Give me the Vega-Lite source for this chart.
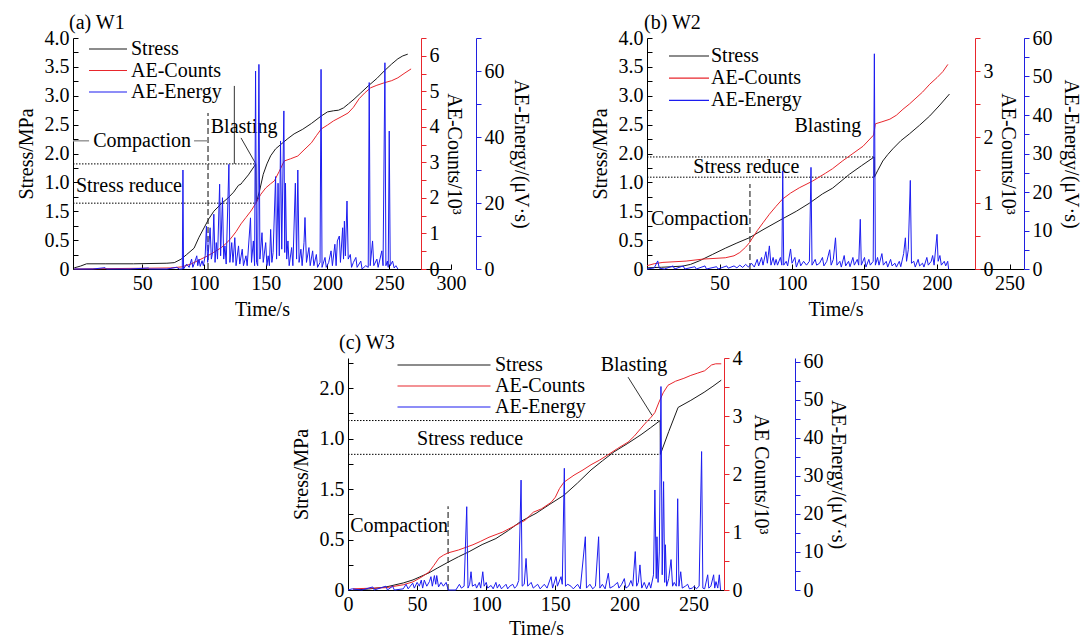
{
 "$schema": "https://vega.github.io/schema/vega-lite/v6.json",
 "padding": {"left": 16, "top": 13, "right": 2, "bottom": 2},
 "background": "white",
 "config": {
  "view": {"stroke": null},
  "font": "Liberation Serif",
  "axis": {"labelFont": "Liberation Serif", "titleFont": "Liberation Serif", "labelFontSize": 20, "titleFontSize": 20, "titleFontWeight": "normal", "labelColor": "black", "titleColor": "black", "grid": false, "domainColor": "black", "tickColor": "black", "domainWidth": 1, "tickWidth": 1, "labelOverlap": false, "labelFlush": false},
  "legend": {"orient": "none", "title": null, "symbolStrokeWidth": 1.2, "symbolSize": 400, "labelFont": "Liberation Serif", "labelFontSize": 20, "labelColor": "black", "padding": 0},
  "title": {"font": "Liberation Serif", "fontSize": 20, "fontWeight": "normal", "anchor": "start", "frame": "group", "color": "black"}
 },
 "datasets": {
  "a_stress": [{"t":-5,"v":0.02},{"t":0,"v":0.05},{"t":5,"v":0.09},{"t":20,"v":0.09},{"t":43,"v":0.09},{"t":70,"v":0.1},{"t":76,"v":0.11},{"t":81.5,"v":0.17},{"t":86,"v":0.25},{"t":92,"v":0.36},{"t":96,"v":0.55},{"t":100,"v":0.71},{"t":104,"v":0.87},{"t":108,"v":1.0},{"t":114,"v":1.13},{"t":119.5,"v":1.23},{"t":124,"v":1.33},{"t":128,"v":1.45},{"t":130,"v":1.47},{"t":131,"v":1.5},{"t":136,"v":1.63},{"t":142,"v":1.82},{"t":142.3,"v":1.14},{"t":145,"v":1.35},{"t":148,"v":1.64},{"t":151,"v":1.82},{"t":154,"v":1.96},{"t":158,"v":2.08},{"t":162.4,"v":2.16},{"t":168,"v":2.26},{"t":173,"v":2.34},{"t":180,"v":2.42},{"t":187,"v":2.52},{"t":195,"v":2.65},{"t":200,"v":2.72},{"t":205,"v":2.74},{"t":209,"v":2.75},{"t":213,"v":2.79},{"t":217,"v":2.86},{"t":221.5,"v":2.94},{"t":227,"v":3.05},{"t":233,"v":3.17},{"t":240,"v":3.3},{"t":246,"v":3.43},{"t":252,"v":3.55},{"t":257,"v":3.64},{"t":261,"v":3.69},{"t":265,"v":3.72}],
  "a_counts": [{"t":-5,"c":0},{"t":20,"c":0.01},{"t":50,"c":0.02},{"t":73,"c":0.03},{"t":82,"c":0.06},{"t":89.5,"c":0.14},{"t":96,"c":0.25},{"t":103,"c":0.37},{"t":108,"c":0.47},{"t":114,"c":0.6},{"t":118,"c":0.72},{"t":122,"c":0.87},{"t":126,"c":1.05},{"t":130,"c":1.27},{"t":134,"c":1.45},{"t":138,"c":1.63},{"t":142,"c":1.85},{"t":146,"c":2.1},{"t":150,"c":2.28},{"t":154,"c":2.4},{"t":157,"c":2.48},{"t":161,"c":2.75},{"t":165,"c":3.04},{"t":170,"c":3.1},{"t":176,"c":3.18},{"t":181,"c":3.35},{"t":187,"c":3.55},{"t":191,"c":3.75},{"t":195,"c":3.94},{"t":200,"c":4.05},{"t":205,"c":4.17},{"t":211,"c":4.28},{"t":216.7,"c":4.39},{"t":221,"c":4.55},{"t":225.6,"c":4.79},{"t":230,"c":4.95},{"t":235,"c":5.1},{"t":240,"c":5.17},{"t":246,"c":5.24},{"t":252,"c":5.3},{"t":257,"c":5.38},{"t":262,"c":5.5},{"t":267.7,"c":5.63}],
  "a_energy": [{"t":-5,"e":0},{"t":10,"e":0},{"t":20,"e":0.4},{"t":21,"e":0},{"t":40,"e":0},{"t":55,"e":0.3},{"t":56,"e":0},{"t":70,"e":0},{"t":78,"e":0.5},{"t":80,"e":0},{"t":82.5,"e":0},{"t":83,"e":30},{"t":83.5,"e":0},{"t":86,"e":1.5},{"t":88,"e":0.5},{"t":90,"e":3},{"t":91,"e":0.5},{"t":92.5,"e":2},{"t":94.2,"e":4},{"t":95,"e":1},{"t":96,"e":3},{"t":97,"e":0.8},{"t":98.5,"e":2.5},{"t":99.5,"e":1},{"t":101,"e":4},{"t":102,"e":13},{"t":103,"e":2},{"t":104,"e":7},{"t":105,"e":12.5},{"t":106,"e":3},{"t":107,"e":5},{"t":108,"e":16.6},{"t":109,"e":2},{"t":110,"e":8},{"t":111,"e":3},{"t":112.7,"e":25.7},{"t":113.5,"e":4},{"t":115,"e":21.6},{"t":116,"e":3},{"t":117,"e":7},{"t":118,"e":1.5},{"t":120.2,"e":31.7},{"t":121,"e":2},{"t":122.5,"e":8},{"t":123.5,"e":2},{"t":125,"e":9.5},{"t":126,"e":1},{"t":128,"e":7},{"t":129,"e":1.5},{"t":131,"e":6},{"t":132,"e":1},{"t":134,"e":4},{"t":135,"e":1},{"t":137.7,"e":15.5},{"t":138.5,"e":2},{"t":140,"e":8.5},{"t":141,"e":1},{"t":141.8,"e":60},{"t":142.6,"e":2},{"t":143.5,"e":1},{"t":144.5,"e":62},{"t":145.3,"e":3},{"t":147,"e":11},{"t":148,"e":2},{"t":150,"e":8},{"t":151,"e":1},{"t":152,"e":4},{"t":153,"e":1},{"t":154,"e":12},{"t":155,"e":2},{"t":156,"e":5},{"t":158,"e":28},{"t":158.8,"e":3},{"t":160,"e":26},{"t":161,"e":4},{"t":162,"e":38.8},{"t":163,"e":6},{"t":164.7,"e":47.9},{"t":165.4,"e":5},{"t":166,"e":26},{"t":167,"e":3},{"t":168,"e":8.5},{"t":169,"e":1},{"t":171,"e":6.5},{"t":172,"e":1},{"t":174,"e":26},{"t":175,"e":3},{"t":176,"e":30},{"t":177,"e":2},{"t":178.5,"e":6},{"t":179.5,"e":1},{"t":181,"e":8},{"t":181.8,"e":15.6},{"t":183,"e":2},{"t":185,"e":6.5},{"t":186,"e":1},{"t":188,"e":5.5},{"t":189,"e":1},{"t":191,"e":4.4},{"t":192,"e":0.5},{"t":194,"e":2},{"t":194.8,"e":60.5},{"t":195.6,"e":0.5},{"t":198,"e":3.5},{"t":199,"e":0.5},{"t":201,"e":2},{"t":202.9,"e":5.5},{"t":204,"e":1},{"t":206,"e":7.5},{"t":207,"e":1},{"t":208,"e":8.5},{"t":209.6,"e":10},{"t":210.5,"e":2},{"t":212.3,"e":12.5},{"t":213,"e":3},{"t":213.7,"e":14.5},{"t":214.5,"e":4},{"t":215.8,"e":20.6},{"t":216.8,"e":3},{"t":218.5,"e":4.4},{"t":219.5,"e":0.5},{"t":221,"e":2},{"t":223,"e":3.5},{"t":224,"e":0.5},{"t":227,"e":2.4},{"t":228,"e":0},{"t":231,"e":1},{"t":233,"e":0.5},{"t":233.8,"e":56.5},{"t":234.6,"e":1},{"t":236.5,"e":8.5},{"t":237.5,"e":1},{"t":240,"e":3},{"t":241,"e":0.5},{"t":244,"e":5.5},{"t":245,"e":1},{"t":246.5,"e":62.5},{"t":247.3,"e":1},{"t":248.5,"e":2.4},{"t":249.2,"e":0.5},{"t":250,"e":41.8},{"t":250.8,"e":1},{"t":252.7,"e":2.4},{"t":254,"e":0.3},{"t":255.4,"e":1},{"t":257,"e":0}],
  "a_ann": [{"k":"dot","t":-6,"t2":142,"v":1.82,"v2":1.82},{"k":"dot","t":-6,"t2":142.5,"v":1.14,"v2":1.14},{"k":"dash","t":103.3,"t2":103.3,"v":0,"v2":2.7},{"k":"gray","t":-6,"t2":7,"v":2.22,"v2":2.22},{"k":"gray","t":92,"t2":103.3,"v":2.22,"v2":2.22},{"k":"solid","t":130,"t2":142,"v":2.27,"v2":1.82},{"k":"solid","t":124.6,"t2":124.6,"v":1.82,"v2":3.17}],
  "a_txt": [{"t":49.9,"v":2.22,"label":"Compaction"},{"t":39.3,"v":1.44,"label":"Stress reduce"},{"t":132.5,"v":2.46,"label":"Blasting"}],
  "b_stress": [{"t":0,"v":0.02},{"t":10,"v":0.03},{"t":24.6,"v":0.05},{"t":30,"v":0.08},{"t":36,"v":0.14},{"t":45,"v":0.25},{"t":54,"v":0.36},{"t":62,"v":0.45},{"t":70.5,"v":0.54},{"t":80,"v":0.68},{"t":93.5,"v":0.87},{"t":103,"v":1.0},{"t":112,"v":1.14},{"t":121,"v":1.3},{"t":128,"v":1.4},{"t":139.6,"v":1.64},{"t":148,"v":1.79},{"t":156.7,"v":1.94},{"t":156.8,"v":1.59},{"t":159,"v":1.7},{"t":162.6,"v":1.87},{"t":166,"v":1.98},{"t":169.5,"v":2.08},{"t":175,"v":2.22},{"t":181,"v":2.34},{"t":188,"v":2.49},{"t":195,"v":2.65},{"t":202,"v":2.84},{"t":208.6,"v":3.03}],
  "b_counts": [{"t":0,"c":0.05},{"t":5,"c":0.08},{"t":11,"c":0.1},{"t":27,"c":0.12},{"t":38.5,"c":0.15},{"t":54,"c":0.17},{"t":60,"c":0.2},{"t":64,"c":0.25},{"t":68,"c":0.33},{"t":70.7,"c":0.4},{"t":76,"c":0.58},{"t":80,"c":0.7},{"t":84.4,"c":0.83},{"t":89,"c":0.95},{"t":93.5,"c":1.06},{"t":99,"c":1.15},{"t":105,"c":1.23},{"t":114,"c":1.33},{"t":123,"c":1.45},{"t":128,"c":1.52},{"t":135,"c":1.64},{"t":142,"c":1.75},{"t":149,"c":1.86},{"t":156.3,"c":2.03},{"t":157.5,"c":2.2},{"t":162,"c":2.23},{"t":167.5,"c":2.27},{"t":172,"c":2.33},{"t":176.5,"c":2.42},{"t":181,"c":2.5},{"t":185.5,"c":2.59},{"t":190,"c":2.68},{"t":195,"c":2.8},{"t":200,"c":2.9},{"t":204,"c":2.99},{"t":207.5,"c":3.1}],
  "b_energy": [{"t":0,"e":0},{"t":5,"e":0.3},{"t":7.4,"e":2.1},{"t":8.5,"e":0.2},{"t":12,"e":0},{"t":18,"e":0.8},{"t":19,"e":0},{"t":25,"e":0.8},{"t":26,"e":0},{"t":33,"e":0.6},{"t":34,"e":0},{"t":40,"e":0.8},{"t":41,"e":0},{"t":48,"e":0.6},{"t":49,"e":0},{"t":55,"e":0.8},{"t":56,"e":0.2},{"t":60,"e":0.8},{"t":62,"e":0.3},{"t":64,"e":1},{"t":66,"e":0.4},{"t":68,"e":1.2},{"t":70,"e":0.5},{"t":72,"e":1.5},{"t":74,"e":0.5},{"t":76,"e":2.5},{"t":77,"e":0.8},{"t":79,"e":3},{"t":80,"e":1},{"t":82,"e":4.5},{"t":83,"e":1.5},{"t":84.4,"e":6},{"t":85.5,"e":1},{"t":87,"e":3},{"t":88,"e":1},{"t":89,"e":2.5},{"t":90,"e":1},{"t":92,"e":3},{"t":93,"e":1},{"t":93.6,"e":25.5},{"t":94.3,"e":1},{"t":96,"e":2},{"t":97,"e":0.8},{"t":99,"e":5.2},{"t":100,"e":1.5},{"t":102,"e":3},{"t":103,"e":0.5},{"t":105,"e":2.5},{"t":106,"e":0.8},{"t":108,"e":2},{"t":110,"e":1},{"t":112,"e":2},{"t":113.1,"e":26.4},{"t":113.8,"e":1},{"t":116,"e":2.5},{"t":117,"e":1},{"t":119,"e":1.5},{"t":121,"e":3},{"t":122,"e":0.8},{"t":124,"e":2},{"t":126,"e":5},{"t":127,"e":1},{"t":128.5,"e":2.5},{"t":130,"e":8.1},{"t":131,"e":1},{"t":133,"e":2},{"t":134,"e":0.5},{"t":136,"e":3.5},{"t":137,"e":0.8},{"t":139,"e":2},{"t":140,"e":0.6},{"t":142,"e":3},{"t":143,"e":1},{"t":145,"e":2.5},{"t":146,"e":1},{"t":147.1,"e":12.9},{"t":147.8,"e":1},{"t":150,"e":3},{"t":151,"e":0.5},{"t":153,"e":2.5},{"t":154,"e":1},{"t":156,"e":2},{"t":156.8,"e":55.9},{"t":157.5,"e":1},{"t":159,"e":3},{"t":160,"e":1},{"t":162,"e":4},{"t":163,"e":1},{"t":165,"e":2},{"t":166,"e":0.5},{"t":168,"e":2.5},{"t":169,"e":0.8},{"t":171,"e":1.5},{"t":172,"e":0.5},{"t":174,"e":2},{"t":175,"e":0.6},{"t":177,"e":4},{"t":178.2,"e":8.1},{"t":179,"e":2},{"t":180.2,"e":5},{"t":181.6,"e":23},{"t":182.4,"e":1.5},{"t":184,"e":2},{"t":185,"e":0.5},{"t":187,"e":2.5},{"t":188,"e":0.8},{"t":190,"e":1.5},{"t":191,"e":0.5},{"t":193,"e":3},{"t":194,"e":1},{"t":196,"e":2},{"t":197,"e":3.5},{"t":198,"e":1},{"t":200,"e":9},{"t":200.8,"e":2},{"t":202,"e":3.5},{"t":203,"e":1},{"t":205,"e":2},{"t":206,"e":0.8},{"t":207.4,"e":2},{"t":208,"e":0}],
  "b_ann": [{"k":"dot","t":0,"t2":156.7,"v":1.94,"v2":1.94},{"k":"dot","t":0,"t2":156.7,"v":1.59,"v2":1.59},{"k":"dash","t":71,"t2":71,"v":0,"v2":1.47}],
  "b_txt": [{"t":36.4,"v":0.87,"label":"Compaction"},{"t":68.5,"v":1.77,"label":"Stress reduce"},{"t":124.7,"v":2.48,"label":"Blasting"}],
  "c_stress": [{"t":3.6,"v":0},{"t":15,"v":0.01},{"t":27.5,"v":0.03},{"t":40,"v":0.07},{"t":47,"v":0.1},{"t":52,"v":0.13},{"t":58.6,"v":0.17},{"t":65,"v":0.22},{"t":73,"v":0.28},{"t":80,"v":0.33},{"t":87.6,"v":0.38},{"t":97,"v":0.45},{"t":107,"v":0.51},{"t":116,"v":0.59},{"t":125,"v":0.68},{"t":136,"v":0.76},{"t":146,"v":0.85},{"t":156.3,"v":0.94},{"t":166,"v":1.06},{"t":175.8,"v":1.19},{"t":184,"v":1.28},{"t":192.5,"v":1.37},{"t":202,"v":1.45},{"t":212,"v":1.54},{"t":219,"v":1.61},{"t":225.8,"v":1.68},{"t":226,"v":1.345},{"t":232,"v":1.57},{"t":238.8,"v":1.81},{"t":248,"v":1.88},{"t":257.6,"v":1.96},{"t":264,"v":2.02},{"t":270,"v":2.08}],
  "c_counts": [{"t":3.6,"c":0.02},{"t":15,"c":0.03},{"t":27.5,"c":0.04},{"t":40,"c":0.09},{"t":47,"c":0.14},{"t":53,"c":0.22},{"t":58.6,"c":0.31},{"t":62,"c":0.42},{"t":65.8,"c":0.55},{"t":69,"c":0.6},{"t":72.4,"c":0.64},{"t":80,"c":0.69},{"t":90.4,"c":0.78},{"t":96,"c":0.84},{"t":102,"c":0.91},{"t":112,"c":1.0},{"t":121.6,"c":1.12},{"t":128,"c":1.2},{"t":134,"c":1.34},{"t":140,"c":1.4},{"t":146.9,"c":1.51},{"t":150,"c":1.6},{"t":153,"c":1.75},{"t":156.3,"c":1.86},{"t":163.5,"c":1.98},{"t":170,"c":2.07},{"t":175.8,"c":2.16},{"t":182,"c":2.24},{"t":188,"c":2.33},{"t":195,"c":2.44},{"t":202.6,"c":2.55},{"t":207,"c":2.65},{"t":212,"c":2.79},{"t":216,"c":2.9},{"t":219,"c":2.97},{"t":222,"c":3.06},{"t":225,"c":3.24},{"t":228,"c":3.4},{"t":231.5,"c":3.53},{"t":237,"c":3.6},{"t":243,"c":3.65},{"t":248,"c":3.7},{"t":253,"c":3.74},{"t":258,"c":3.78},{"t":260.5,"c":3.83},{"t":263,"c":3.88},{"t":266,"c":3.9},{"t":270,"c":3.9}],
  "c_energy": [{"t":0,"e":0},{"t":3,"e":0.3},{"t":10,"e":0},{"t":17.9,"e":0.8},{"t":19,"e":0},{"t":27.5,"e":1},{"t":28.5,"e":0},{"t":32.3,"e":1},{"t":33.5,"e":0},{"t":40,"e":0.3},{"t":42,"e":1.5},{"t":43.5,"e":0.3},{"t":46.8,"e":1.8},{"t":48,"e":0.5},{"t":50,"e":2},{"t":51.6,"e":1},{"t":53,"e":2.6},{"t":54,"e":0.5},{"t":55.2,"e":2.6},{"t":57,"e":1},{"t":58.9,"e":2.2},{"t":60,"e":3.5},{"t":61,"e":1},{"t":62.5,"e":3.8},{"t":63.5,"e":1.5},{"t":64.2,"e":3.8},{"t":65.5,"e":0.8},{"t":67.3,"e":2},{"t":69,"e":1},{"t":71,"e":2},{"t":72.5,"e":0},{"t":78,"e":0},{"t":80.6,"e":1.5},{"t":82,"e":0.5},{"t":84,"e":1},{"t":85.9,"e":21.9},{"t":86.8,"e":0.5},{"t":88,"e":1.5},{"t":89,"e":4.8},{"t":90,"e":1},{"t":92.2,"e":1.5},{"t":93,"e":0.5},{"t":95,"e":2},{"t":96,"e":0.5},{"t":97.5,"e":4.8},{"t":98.5,"e":1},{"t":100,"e":2},{"t":101,"e":0.5},{"t":103.5,"e":1.2},{"t":105,"e":0.3},{"t":107,"e":2},{"t":108,"e":0.5},{"t":109.5,"e":1.5},{"t":111,"e":0.3},{"t":114.3,"e":1.5},{"t":115.5,"e":0.3},{"t":117,"e":1},{"t":119.2,"e":1.5},{"t":120.5,"e":0.5},{"t":122,"e":1},{"t":123.5,"e":2.5},{"t":125.2,"e":28.9},{"t":126,"e":1},{"t":127.5,"e":1.5},{"t":128.8,"e":8.3},{"t":130,"e":1},{"t":132.5,"e":2},{"t":134,"e":0.5},{"t":137.2,"e":1.5},{"t":139,"e":0.3},{"t":142,"e":1.5},{"t":144,"e":0.5},{"t":146.9,"e":3.5},{"t":148,"e":0.5},{"t":150.5,"e":3.5},{"t":151.5,"e":1},{"t":154.1,"e":3.5},{"t":155,"e":1.5},{"t":156.5,"e":32},{"t":157.3,"e":1},{"t":159,"e":1.5},{"t":161.3,"e":1},{"t":163,"e":0.3},{"t":166.1,"e":1.5},{"t":168,"e":0.3},{"t":171.7,"e":14},{"t":172.5,"e":0.5},{"t":175,"e":1.5},{"t":177,"e":0.3},{"t":179,"e":1},{"t":181.3,"e":14},{"t":182.2,"e":0.5},{"t":184,"e":1.5},{"t":186,"e":0.3},{"t":188.3,"e":4.4},{"t":189.5,"e":0.5},{"t":192,"e":1},{"t":195,"e":2},{"t":196,"e":0.5},{"t":198,"e":1.5},{"t":199.9,"e":3},{"t":201,"e":0.5},{"t":203,"e":1},{"t":204.7,"e":2.5},{"t":206,"e":1},{"t":207.8,"e":10.1},{"t":208.8,"e":1},{"t":210,"e":2},{"t":211.2,"e":6.6},{"t":212.5,"e":0.5},{"t":214.3,"e":2},{"t":216,"e":0.3},{"t":217.9,"e":2},{"t":219,"e":0.5},{"t":221,"e":4},{"t":222,"e":26.3},{"t":223,"e":3},{"t":223.5,"e":14},{"t":224.3,"e":2},{"t":225.2,"e":10},{"t":226.4,"e":53.5},{"t":227.3,"e":4},{"t":228.3,"e":28.5},{"t":229.1,"e":2},{"t":229.6,"e":11.9},{"t":230.5,"e":1},{"t":232,"e":3},{"t":233.7,"e":8},{"t":234.8,"e":1},{"t":236,"e":2},{"t":237.5,"e":1},{"t":238.5,"e":24},{"t":239.4,"e":1},{"t":240.7,"e":4.8},{"t":241.8,"e":0.5},{"t":244,"e":1},{"t":245.7,"e":1.5},{"t":247,"e":0.3},{"t":249,"e":0.5},{"t":250.5,"e":1},{"t":252,"e":0.3},{"t":254,"e":1},{"t":255.8,"e":36.4},{"t":256.7,"e":0.5},{"t":258,"e":0.3},{"t":260.2,"e":4},{"t":261,"e":0.5},{"t":262.5,"e":1},{"t":264.5,"e":4},{"t":265.3,"e":0.5},{"t":266.2,"e":2.2},{"t":267.5,"e":0.5},{"t":268.6,"e":4},{"t":269.5,"e":0}],
  "c_ann": [{"k":"dot","t":0,"t2":225.8,"v":1.68,"v2":1.68},{"k":"dot","t":0,"t2":225.8,"v":1.345,"v2":1.345},{"k":"dash","t":72.4,"t2":72.4,"v":0,"v2":0.83},{"k":"solid","t":202.6,"t2":220,"v":2.11,"v2":1.73}],
  "c_txt": [{"t":37,"v":0.63,"label":"Compaction"},{"t":88.3,"v":1.5,"label":"Stress reduce"},{"t":206.9,"v":2.23,"label":"Blasting"}]
 },
 "spacing": 14,
 "resolve": {"scale": {"color": "independent"}, "legend": {"color": "independent"}},
 "vconcat": [
  {"spacing": 60, "resolve": {"scale": {"color": "independent"}, "legend": {"color": "independent"}}, "hconcat": [
   {
    "title": {"text": "(a) W1", "dx": -4, "offset": -5},
    "width": 378, "height": 231,
    "encoding": {"x": {"field": "t", "type": "quantitative", "scale": {"domain": [-6, 300], "nice": false, "zero": false}, "axis": {"values": [50,100,150,200,250,300], "tickCount": 40, "title": "Time/s", "tickSize": -5, "labelPadding": 9, "titlePadding": 6, "labelOverlap": false}}},
    "layer": [
     {"layer": [
      {"data": {"name": "a_stress"}, "mark": {"type": "line", "strokeWidth": 1}, "encoding": {"y": {"field": "v", "type": "quantitative", "scale": {"domain": [0, 4], "nice": false}, "axis": {"orient": "left", "values": [0,0.5,1,1.5,2,2.5,3,3.5,4], "tickCount": 40, "labelOverlap": false, "labelExpr": "datum.value == 0 ? '0' : datum.value == 1 ? '1.5' : datum.value == 1.5 ? '1.0' : format(datum.value, '.1f')", "title": "Stress/MPa", "tickSize": -5, "labelPadding": 9, "titlePadding": 8}}, "color": {"datum": "Stress", "scale": {"domain": ["Stress", "AE-Counts", "AE-Energy"], "range": ["#1a1a1a", "#e8262c", "#1c1cf0"]}, "legend": {"legendX": 24, "legendY": 0, "symbolType": "M-1.9,0H1.9", "labelOffset": 12, "rowPadding": 0.5}}}},
      {"data": {"name": "a_ann"}, "transform": [{"filter": "datum.k == 'dot'"}], "mark": {"type": "rule", "color": "black", "strokeDash": [1.5, 1.5], "strokeWidth": 1}, "encoding": {"x2": {"field": "t2"}, "y": {"field": "v", "type": "quantitative"}, "y2": {"field": "v2"}}},
      {"data": {"name": "a_ann"}, "transform": [{"filter": "datum.k == 'dash'"}], "mark": {"type": "rule", "color": "#333", "strokeDash": [6, 3], "strokeWidth": 1.2}, "encoding": {"x2": {"field": "t2"}, "y": {"field": "v", "type": "quantitative"}, "y2": {"field": "v2"}}},
      {"data": {"name": "a_ann"}, "transform": [{"filter": "datum.k == 'gray'"}], "mark": {"type": "rule", "color": "#999", "strokeWidth": 1.5}, "encoding": {"x2": {"field": "t2"}, "y": {"field": "v", "type": "quantitative"}, "y2": {"field": "v2"}}},
      {"data": {"name": "a_ann"}, "transform": [{"filter": "datum.k == 'solid'"}], "mark": {"type": "rule", "color": "#333", "strokeWidth": 1}, "encoding": {"x2": {"field": "t2"}, "y": {"field": "v", "type": "quantitative"}, "y2": {"field": "v2"}}},
      {"data": {"name": "a_txt"}, "mark": {"type": "text", "align": "center", "baseline": "middle", "font": "Liberation Serif", "fontSize": 20, "color": "black"}, "encoding": {"y": {"field": "v", "type": "quantitative"}, "text": {"field": "label"}}}
     ]},
     {"data": {"name": "a_counts"}, "mark": {"type": "line", "strokeWidth": 1}, "encoding": {"y": {"field": "c", "type": "quantitative", "scale": {"domain": [0, 6.5], "nice": false}, "axis": {"orient": "right", "offset": -30, "values": [0,0.5,1,1.5,2,2.5,3,3.5,4,4.5,5,5.5,6,6.5], "tickCount": 40, "labelOverlap": false, "labelExpr": "datum.value % 1 == 0 ? format(datum.value, 'd') : ''", "title": "AE-Counts/10³", "domainColor": "#e8262c", "tickColor": "#e8262c", "tickSize": 5, "labelPadding": 3, "titlePadding": 4}}, "color": {"datum": "AE-Counts"}}},
     {"data": {"name": "a_energy"}, "mark": {"type": "line", "strokeWidth": 1}, "encoding": {"y": {"field": "e", "type": "quantitative", "scale": {"domain": [0, 70], "nice": false}, "axis": {"orient": "right", "offset": 25, "values": [0,10,20,30,40,50,60,70], "tickCount": 40, "labelOverlap": false, "labelExpr": "datum.value % 20 == 0 ? format(datum.value, 'd') : ''", "title": "AE-Energy/(μV·s)", "domainColor": "#2020e0", "tickColor": "#2020e0", "tickSize": 5, "labelPadding": 3, "titlePadding": 6}}, "color": {"datum": "AE-Energy"}}},
     {"data": {"name": "a_stress"}, "mark": {"type": "line", "opacity": 0}, "encoding": {"y": {"field": "v", "type": "quantitative", "scale": {"domain": [0, 4], "nice": false}, "axis": {"orient": "left", "values": [0.25,0.75,1.25,1.75,2.25,2.75,3.25,3.75], "tickCount": 40, "labels": false, "domain": false, "title": null, "tickSize": -5}}}}
    ],
    "resolve": {"scale": {"y": "independent"}}
   },
   {
    "title": {"text": "(b) W2", "dx": -3, "offset": -5},
    "width": 377, "height": 231,
    "encoding": {"x": {"field": "t", "type": "quantitative", "scale": {"domain": [0, 260], "nice": false, "zero": false}, "axis": {"values": [50,100,150,200,250], "tickCount": 40, "title": "Time/s", "tickSize": -5, "labelPadding": 9, "titlePadding": 6, "labelOverlap": false}}},
    "layer": [
     {"layer": [
      {"data": {"name": "b_stress"}, "mark": {"type": "line", "strokeWidth": 1}, "encoding": {"y": {"field": "v", "type": "quantitative", "scale": {"domain": [0, 4], "nice": false}, "axis": {"orient": "left", "values": [0,0.5,1,1.5,2,2.5,3,3.5,4], "tickCount": 40, "labelOverlap": false, "labelExpr": "datum.value == 0 ? '0' : datum.value == 1 ? '1.5' : datum.value == 1.5 ? '1.0' : format(datum.value, '.1f')", "title": "Stress/MPa", "tickSize": -5, "labelPadding": 9, "titlePadding": 8}}, "color": {"datum": "Stress", "scale": {"domain": ["Stress", "AE-Counts", "AE-Energy"], "range": ["#1a1a1a", "#e8262c", "#1c1cf0"]}, "legend": {"legendX": 31, "legendY": 7, "symbolType": "M-2,0H2", "labelOffset": 11, "rowPadding": 1.2}}}},
      {"data": {"name": "b_ann"}, "transform": [{"filter": "datum.k == 'dot'"}], "mark": {"type": "rule", "color": "black", "strokeDash": [1.5, 1.5], "strokeWidth": 1}, "encoding": {"x2": {"field": "t2"}, "y": {"field": "v", "type": "quantitative"}, "y2": {"field": "v2"}}},
      {"data": {"name": "b_ann"}, "transform": [{"filter": "datum.k == 'dash'"}], "mark": {"type": "rule", "color": "#333", "strokeDash": [6, 3], "strokeWidth": 1.2}, "encoding": {"x2": {"field": "t2"}, "y": {"field": "v", "type": "quantitative"}, "y2": {"field": "v2"}}},
      {"data": {"name": "b_txt"}, "mark": {"type": "text", "align": "center", "baseline": "middle", "font": "Liberation Serif", "fontSize": 20, "color": "black"}, "encoding": {"y": {"field": "v", "type": "quantitative"}, "text": {"field": "label"}}}
     ]},
     {"data": {"name": "b_counts"}, "mark": {"type": "line", "strokeWidth": 1}, "encoding": {"y": {"field": "c", "type": "quantitative", "scale": {"domain": [0, 3.5], "nice": false}, "axis": {"orient": "right", "offset": -49, "values": [0,0.5,1,1.5,2,2.5,3,3.5], "tickCount": 40, "labelOverlap": false, "labelExpr": "datum.value % 1 == 0 ? format(datum.value, 'd') : ''", "title": "AE-Counts/10³", "domainColor": "#e8262c", "tickColor": "#e8262c", "tickSize": 5, "labelPadding": 3, "titlePadding": 4}}, "color": {"datum": "AE-Counts"}}},
     {"data": {"name": "b_energy"}, "mark": {"type": "line", "strokeWidth": 1}, "encoding": {"y": {"field": "e", "type": "quantitative", "scale": {"domain": [0, 60], "nice": false}, "axis": {"orient": "right", "offset": 0, "values": [0,5,10,15,20,25,30,35,40,45,50,55,60], "tickCount": 40, "labelOverlap": false, "labelExpr": "datum.value % 10 == 0 ? format(datum.value, 'd') : ''", "title": "AE-Energy/(μV·s)", "domainColor": "#2020e0", "tickColor": "#2020e0", "tickSize": 5, "labelPadding": 3, "titlePadding": 8}}, "color": {"datum": "AE-Energy"}}},
     {"data": {"name": "b_stress"}, "mark": {"type": "line", "opacity": 0}, "encoding": {"y": {"field": "v", "type": "quantitative", "scale": {"domain": [0, 4], "nice": false}, "axis": {"orient": "left", "values": [0.25,0.75,1.25,1.75,2.25,2.75,3.25,3.75], "tickCount": 40, "labels": false, "domain": false, "title": null, "tickSize": -5}}}}
    ],
    "resolve": {"scale": {"y": "independent"}}
   }
  ]},
  {"spacing": 0, "resolve": {"scale": {"color": "independent"}, "legend": {"color": "independent"}}, "hconcat": [
   {"width": 218, "height": 1, "data": {"values": [{}]}, "mark": {"type": "text"}, "encoding": {"text": {"value": ""}}},
   {
    "title": {"text": "(c) W3", "dx": -9, "offset": -5},
    "width": 376, "height": 232,
    "encoding": {"x": {"field": "t", "type": "quantitative", "scale": {"domain": [0, 272], "nice": false, "zero": false}, "axis": {"values": [0,50,100,150,200,250], "tickCount": 40, "title": "Time/s", "tickSize": -5, "labelPadding": 9, "titlePadding": 4, "labelOverlap": false}}},
    "layer": [
     {"layer": [
      {"data": {"name": "c_stress"}, "mark": {"type": "line", "strokeWidth": 1}, "encoding": {"y": {"field": "v", "type": "quantitative", "scale": {"domain": [0, 2.3], "nice": false}, "axis": {"orient": "left", "values": [0,0.5,1,1.5,2], "tickCount": 40, "labelOverlap": false, "labelExpr": "datum.value == 0 ? '0' : datum.value == 1 ? '1.5' : datum.value == 1.5 ? '1.0' : format(datum.value, '.1f')", "title": "Stress/MPa", "tickSize": -5, "labelPadding": 9, "titlePadding": 8}}, "color": {"datum": "Stress", "scale": {"domain": ["Stress", "AE-Counts", "AE-Energy"], "range": ["#1a1a1a", "#e8262c", "#1c1cf0"]}, "legend": {"legendX": 85, "legendY": -4, "symbolType": "M-4.65,0H4.65", "labelOffset": 40, "rowPadding": 0}}}},
      {"data": {"name": "c_ann"}, "transform": [{"filter": "datum.k == 'dot'"}], "mark": {"type": "rule", "color": "black", "strokeDash": [1.5, 1.5], "strokeWidth": 1}, "encoding": {"x2": {"field": "t2"}, "y": {"field": "v", "type": "quantitative"}, "y2": {"field": "v2"}}},
      {"data": {"name": "c_ann"}, "transform": [{"filter": "datum.k == 'dash'"}], "mark": {"type": "rule", "color": "#333", "strokeDash": [6, 3], "strokeWidth": 1.2}, "encoding": {"x2": {"field": "t2"}, "y": {"field": "v", "type": "quantitative"}, "y2": {"field": "v2"}}},
      {"data": {"name": "c_ann"}, "transform": [{"filter": "datum.k == 'solid'"}], "mark": {"type": "rule", "color": "#333", "strokeWidth": 1}, "encoding": {"x2": {"field": "t2"}, "y": {"field": "v", "type": "quantitative"}, "y2": {"field": "v2"}}},
      {"data": {"name": "c_txt"}, "mark": {"type": "text", "align": "center", "baseline": "middle", "font": "Liberation Serif", "fontSize": 20, "color": "black"}, "encoding": {"y": {"field": "v", "type": "quantitative"}, "text": {"field": "label"}}}
     ]},
     {"data": {"name": "c_counts"}, "mark": {"type": "line", "strokeWidth": 1}, "encoding": {"y": {"field": "c", "type": "quantitative", "scale": {"domain": [0, 4], "nice": false}, "axis": {"orient": "right", "offset": 0, "values": [0,0.5,1,1.5,2,2.5,3,3.5,4], "tickCount": 40, "labelOverlap": false, "labelExpr": "datum.value % 1 == 0 ? format(datum.value, 'd') : ''", "title": "AE Counts/10³", "domainColor": "#e8262c", "tickColor": "#e8262c", "tickSize": 5, "labelPadding": 3, "titlePadding": 8}}, "color": {"datum": "AE-Counts"}}},
     {"data": {"name": "c_energy"}, "mark": {"type": "line", "strokeWidth": 1}, "encoding": {"y": {"field": "e", "type": "quantitative", "scale": {"domain": [0, 61], "nice": false}, "axis": {"orient": "right", "offset": 71, "values": [0,5,10,15,20,25,30,35,40,45,50,55,60], "tickCount": 40, "labelOverlap": false, "labelExpr": "datum.value % 10 == 0 ? format(datum.value, 'd') : ''", "title": "AE-Energy/(μV·s)", "domainColor": "#2020e0", "tickColor": "#2020e0", "tickSize": 5, "labelPadding": 3, "titlePadding": 4}}, "color": {"datum": "AE-Energy"}}},
     {"data": {"name": "c_stress"}, "mark": {"type": "line", "opacity": 0}, "encoding": {"y": {"field": "v", "type": "quantitative", "scale": {"domain": [0, 2.3], "nice": false}, "axis": {"orient": "left", "values": [0.25,0.75,1.25,1.75,2.25], "tickCount": 40, "labels": false, "domain": false, "title": null, "tickSize": -5}}}}
    ],
    "resolve": {"scale": {"y": "independent"}}
   }
  ]}
 ]
}
